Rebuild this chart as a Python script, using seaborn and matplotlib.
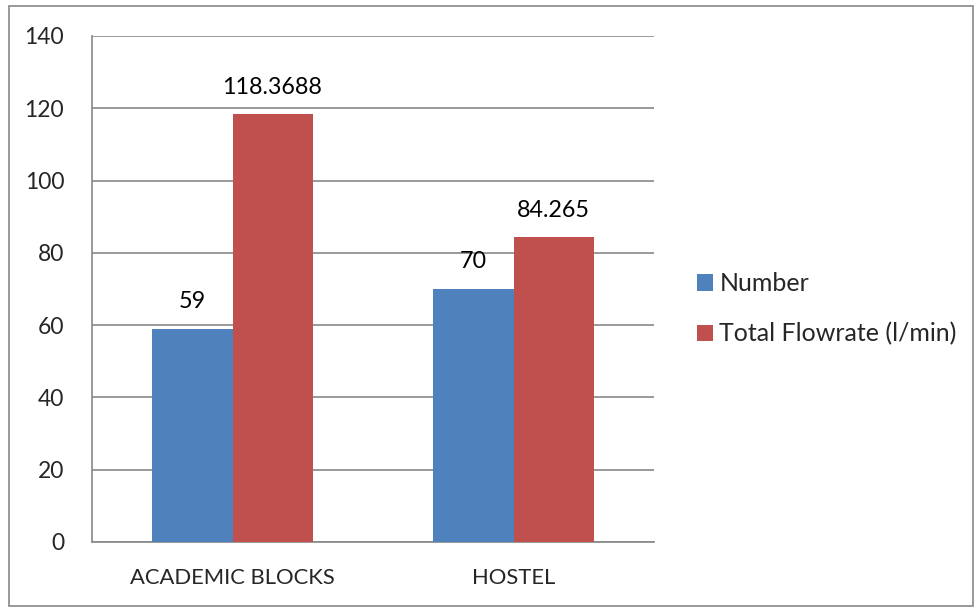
import matplotlib
matplotlib.use("Agg")
import matplotlib.pyplot as plt
import seaborn as sns
import pandas as pd
from matplotlib.patches import Rectangle

# data
categories = ['ACADEMIC BLOCKS', 'HOSTEL']
series = ['Number', 'Total Flowrate (l/min)']
number_vals = [59, 70]
flow_vals = [118.3688, 84.265]
value_labels = [['59', '70'], ['118.3688', '84.265']]

df = pd.DataFrame({
    'Category': categories * 2,
    'Series': [series[0]] * 2 + [series[1]] * 2,
    'Value': number_vals + flow_vals,
})

sns.set_theme(style="white")
plt.rcParams['font.family'] = ['Lato', 'DejaVu Sans']

fig = plt.figure(figsize=(9.75, 6.09), dpi=100)
ax = fig.add_axes([92 / 975, 67 / 609, (654 - 92) / 975, (542 - 36) / 609])

grid_col = '#878787'
ax = sns.barplot(data=df, x='Category', y='Value', hue='Series', order=categories,
                 hue_order=series, palette=['#4F81BD', '#C0504D'], width=0.57,
                 saturation=1, ax=ax, zorder=3, linewidth=0)

ax.set_ylim(0, 140)
ax.set_yticks(range(0, 141, 20))
ax.yaxis.grid(True, color=grid_col, linewidth=1.2, zorder=0)
ax.set_xlim(-0.5, 1.5)
ax.set_xticks([-0.5, 0.5, 1.5])
ax.set_xticklabels([])
ax.set_xticks([0, 1], minor=True)
ax.set_xticklabels(categories, minor=True)
ax.tick_params(axis='x', which='major', direction='out', length=7, color=grid_col, width=1.2)
ax.tick_params(axis='x', which='minor', length=0, pad=19, labelsize=15.8)
ax.tick_params(axis='y', direction='out', length=7, color=grid_col, width=1.2, pad=13, labelsize=16.5)
ax.set_xlabel('')
ax.set_ylabel('')
for side in ['top', 'right']:
    ax.spines[side].set_visible(False)
for side in ['left', 'bottom']:
    ax.spines[side].set_color(grid_col)
    ax.spines[side].set_linewidth(1.2)

for container, labels in zip(ax.containers, value_labels):
    for bar, lab in zip(container, labels):
        ax.annotate(lab, (bar.get_x() + bar.get_width() / 2, bar.get_height()),
                    xytext=(0, 19.5), textcoords='offset points',
                    ha='center', va='center', fontsize=16.8, color='black')

handles, labs = ax.get_legend_handles_labels()
ax.legend(handles, labs, loc='center left', bbox_to_anchor=(697 / 975, 1 - 309 / 609),
          bbox_transform=fig.transFigure, frameon=False, fontsize=18,
          handlelength=0.64, handleheight=0.64, handletextpad=0.25, labelspacing=1.08,
          borderpad=0, borderaxespad=0)

# outer chart border
fig.patches.append(Rectangle((9 / 975, 3 / 609), 964 / 975, 600 / 609,
                             transform=fig.transFigure, fill=False,
                             edgecolor=grid_col, linewidth=1.2))

plt.savefig('out.png', dpi=100)
